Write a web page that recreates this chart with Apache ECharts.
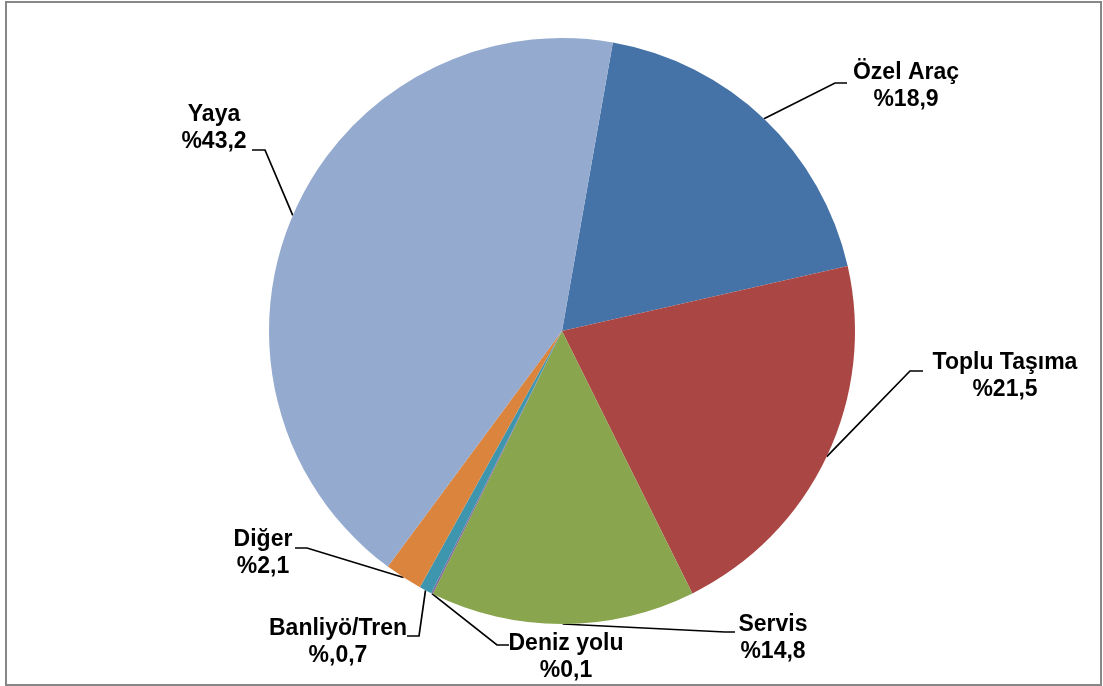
<!DOCTYPE html>
<html>
<head>
<meta charset="utf-8">
<title>Ulaşım türlerine göre dağılım</title>
<script src="https://cdn.jsdelivr.net/npm/echarts@6/dist/echarts.min.js"></script>
<style>
  html, body { margin: 0; padding: 0; background: #ffffff; }
  #chart { width: 1103px; height: 686px; }
</style>
</head>
<body>
<div id="chart"></div>
<script>
// Slices, clockwise from the top
const categories = ['Özel Araç', 'Toplu Taşıma', 'Servis', 'Deniz yolu', 'Banliyö/Tren', 'Diğer', 'Yaya'];
const shares = [18.9, 21.5, 14.8, 0.1, 0.7, 2.1, 43.2];
const valuePrefixes = ['%', '%', '%', '%', '%,', '%', '%'];
const sliceColors = ['#4572A7', '#AA4643', '#89A54E', '#80699B', '#3D96AE', '#DB843D', '#94AACF'];

// Where each two-line label sits (centre of the text block) and how its leader line bends
const labelPlacement = {
  'Özel Araç':    { x: 906,  y: 86,  elbow: [835, 83],  end: [847, 83] },
  'Toplu Taşıma': { x: 1005, y: 376, elbow: [910, 371], end: [923, 371] },
  'Servis':       { x: 773,  y: 638, elbow: [725, 632], end: [735, 632] },
  'Deniz yolu':   { x: 566,  y: 657, elbow: [497, 645], end: [509, 645] },
  'Banliyö/Tren': { x: 338,  y: 642, elbow: [419, 636], end: [407, 636] },
  'Diğer':        { x: 263,  y: 553, elbow: [307, 548], end: [295, 548] },
  'Yaya':         { x: 214,  y: 128, elbow: [265, 150], end: [252, 150] }
};

function formatShare(i) {
  return valuePrefixes[i] + shares[i].toFixed(1).replace('.', ',');
}

const chart = echarts.init(document.getElementById('chart'), null, { renderer: 'canvas' });

chart.setOption({
  animation: false,
  backgroundColor: '#ffffff',
  graphic: [{
    type: 'rect',
    shape: { x: 6, y: 2, width: 1095, height: 683 },
    style: { fill: 'none', stroke: '#878787', lineWidth: 2 },
    silent: true
  }],
  series: [{
    type: 'pie',
    center: [562, 331],
    radius: 293,
    startAngle: 80,
    clockwise: true,
    avoidLabelOverlap: false,
    minShowLabelAngle: 0,
    data: categories.map((name, i) => ({
      name: name,
      value: shares[i],
      itemStyle: { color: sliceColors[i] }
    })),
    itemStyle: { borderWidth: 0 },
    label: {
      show: true,
      position: 'outside',
      formatter: (p) => p.name + '\n' + formatShare(p.dataIndex),
      fontFamily: '"Liberation Sans", Arial, sans-serif',
      fontWeight: 'bold',
      fontSize: 23,
      lineHeight: 27,
      color: '#000000',
      align: 'center'
    },
    labelLine: {
      show: true,
      length: 20,
      length2: 10,
      lineStyle: { color: '#000000', width: 1.7 }
    },
    labelLayout: function (params) {
      const place = labelPlacement[categories[params.dataIndex]];
      const start = params.labelLinePoints && params.labelLinePoints[0];
      const layout = {
        x: place.x,
        y: place.y,
        align: 'center',
        verticalAlign: 'middle'
      };
      if (start) {
        layout.labelLinePoints = [[start[0], start[1]], place.elbow, place.end];
      }
      return layout;
    },
    emphasis: { disabled: true }
  }]
});
</script>
</body>
</html>
